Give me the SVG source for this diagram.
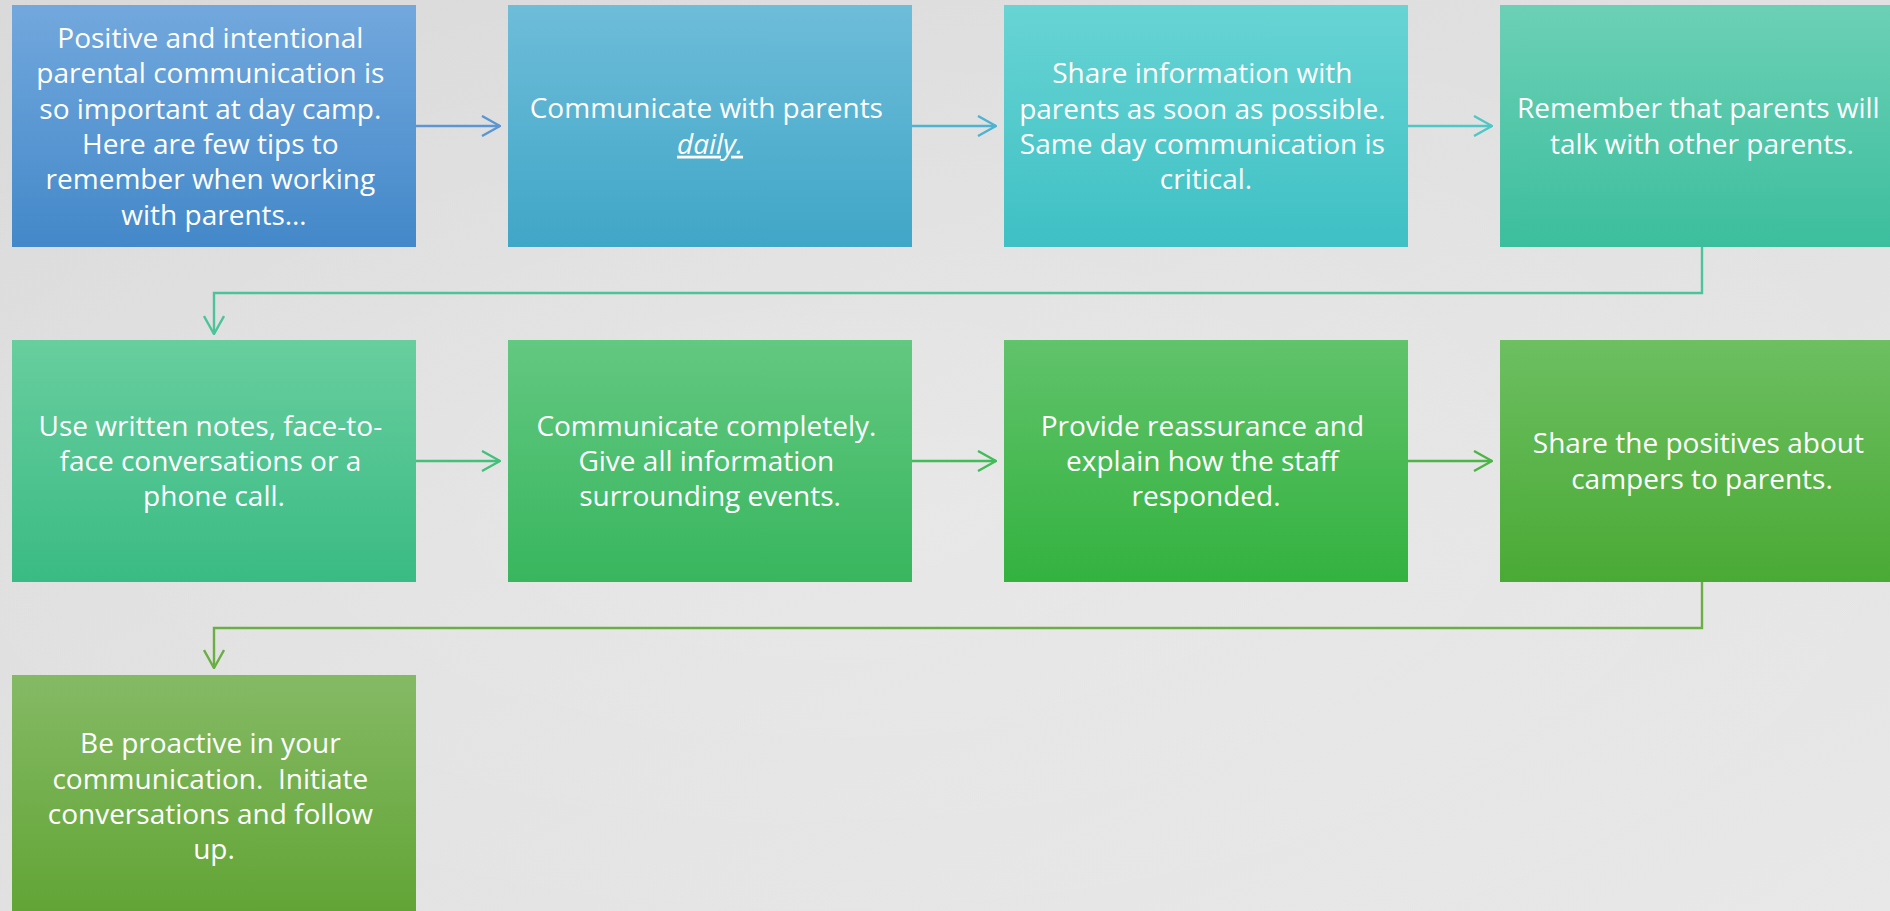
<svg xmlns="http://www.w3.org/2000/svg" width="1890" height="911" viewBox="0 0 1890 911">
  <style>
    .lbl { font-family: "Open Sans", Lato, sans-serif; font-size: 28px; fill: #ffffff; text-anchor: middle; }
    .con { fill: none; stroke-width: 2.4; }
    .em { font-style: italic; text-decoration: underline; }
  </style>
  <defs>
    <linearGradient id="bg" x1="0" y1="0" x2="1" y2="1">
      <stop offset="0" stop-color="#dbdada"/>
      <stop offset="1" stop-color="#e8e8e8"/>
    </linearGradient>
    <radialGradient id="glow" cx="0.45" cy="0.55" r="0.6">
      <stop offset="0" stop-color="#ffffff" stop-opacity="0.22"/>
      <stop offset="1" stop-color="#ffffff" stop-opacity="0"/>
    </radialGradient>
    <linearGradient id="g1" x1="0" y1="0" x2="0" y2="1"><stop offset="0" stop-color="#72a8dd"/><stop offset="1" stop-color="#4388c9"/></linearGradient>
    <linearGradient id="g2" x1="0" y1="0" x2="0" y2="1"><stop offset="0" stop-color="#6ebdd9"/><stop offset="1" stop-color="#40a6c7"/></linearGradient>
    <linearGradient id="g3" x1="0" y1="0" x2="0" y2="1"><stop offset="0" stop-color="#68d4d4"/><stop offset="1" stop-color="#3ec0c4"/></linearGradient>
    <linearGradient id="g4" x1="0" y1="0" x2="0" y2="1"><stop offset="0" stop-color="#6cd0b6"/><stop offset="1" stop-color="#3cbe9d"/></linearGradient>
    <linearGradient id="g5" x1="0" y1="0" x2="0" y2="1"><stop offset="0" stop-color="#68ce9e"/><stop offset="1" stop-color="#3abb84"/></linearGradient>
    <linearGradient id="g6" x1="0" y1="0" x2="0" y2="1"><stop offset="0" stop-color="#63c881"/><stop offset="1" stop-color="#38b65e"/></linearGradient>
    <linearGradient id="g7" x1="0" y1="0" x2="0" y2="1"><stop offset="0" stop-color="#61c36b"/><stop offset="1" stop-color="#33b23f"/></linearGradient>
    <linearGradient id="g8" x1="0" y1="0" x2="0" y2="1"><stop offset="0" stop-color="#6dbf61"/><stop offset="1" stop-color="#4aaa35"/></linearGradient>
    <linearGradient id="g9" x1="0" y1="0" x2="0" y2="1"><stop offset="0" stop-color="#85ba65"/><stop offset="1" stop-color="#61a434"/></linearGradient>
    <marker id="a1" viewBox="0 0 20 22" refX="19" refY="11" markerWidth="20" markerHeight="22" markerUnits="userSpaceOnUse" orient="auto"><path d="M1,1 L19,11 L1,21" fill="none" stroke="#5b96d2" stroke-width="2.4"/></marker>
    <marker id="a2" viewBox="0 0 20 22" refX="19" refY="11" markerWidth="20" markerHeight="22" markerUnits="userSpaceOnUse" orient="auto"><path d="M1,1 L19,11 L1,21" fill="none" stroke="#4db3d0" stroke-width="2.4"/></marker>
    <marker id="a3" viewBox="0 0 20 22" refX="19" refY="11" markerWidth="20" markerHeight="22" markerUnits="userSpaceOnUse" orient="auto"><path d="M1,1 L19,11 L1,21" fill="none" stroke="#4ec7c6" stroke-width="2.4"/></marker>
    <marker id="a4" viewBox="0 0 20 22" refX="19" refY="11" markerWidth="20" markerHeight="22" markerUnits="userSpaceOnUse" orient="auto"><path d="M1,1 L19,11 L1,21" fill="none" stroke="#4cc49a" stroke-width="2.4"/></marker>
    <marker id="a5" viewBox="0 0 20 22" refX="19" refY="11" markerWidth="20" markerHeight="22" markerUnits="userSpaceOnUse" orient="auto"><path d="M1,1 L19,11 L1,21" fill="none" stroke="#45c07a" stroke-width="2.4"/></marker>
    <marker id="a6" viewBox="0 0 20 22" refX="19" refY="11" markerWidth="20" markerHeight="22" markerUnits="userSpaceOnUse" orient="auto"><path d="M1,1 L19,11 L1,21" fill="none" stroke="#40bc58" stroke-width="2.4"/></marker>
    <marker id="a7" viewBox="0 0 20 22" refX="19" refY="11" markerWidth="20" markerHeight="22" markerUnits="userSpaceOnUse" orient="auto"><path d="M1,1 L19,11 L1,21" fill="none" stroke="#4db548" stroke-width="2.4"/></marker>
    <marker id="a8" viewBox="0 0 20 22" refX="19" refY="11" markerWidth="20" markerHeight="22" markerUnits="userSpaceOnUse" orient="auto"><path d="M1,1 L19,11 L1,21" fill="none" stroke="#6aae44" stroke-width="2.4"/></marker>
  </defs>

  <!-- backdrop -->
  <rect width="1890" height="911" fill="url(#bg)"/>
  <rect width="1890" height="911" fill="url(#glow)"/>

  <!-- connectors -->
  <g id="connectors">
    <path class="con" stroke="#5b96d2" d="M416,126 H500" marker-end="url(#a1)"/>
    <path class="con" stroke="#4db3d0" d="M912,126 H996" marker-end="url(#a2)"/>
    <path class="con" stroke="#4ec7c6" d="M1408,126 H1492" marker-end="url(#a3)"/>
    <path class="con" stroke="#4cc49a" d="M1702,247 V293 H214 V334" marker-end="url(#a4)"/>
    <path class="con" stroke="#45c07a" d="M416,461 H500" marker-end="url(#a5)"/>
    <path class="con" stroke="#40bc58" d="M912,461 H996" marker-end="url(#a6)"/>
    <path class="con" stroke="#4db548" d="M1408,461 H1492" marker-end="url(#a7)"/>
    <path class="con" stroke="#6aae44" d="M1702,582 V628 H214 V668" marker-end="url(#a8)"/>
  </g>

  <!-- row 1 -->
  <g id="n1">
    <rect x="12" y="5" width="404" height="242" fill="url(#g1)"/>
    <text class="lbl">
      <tspan x="214" y="48">Positive and intentional</tspan>
      <tspan x="214" y="83.3">parental communication is</tspan>
      <tspan x="214" y="118.6">so important at day camp.</tspan>
      <tspan x="214" y="153.9">Here are few tips to</tspan>
      <tspan x="214" y="189.2">remember when working</tspan>
      <tspan x="214" y="224.5">with parents…</tspan>
    </text>
  </g>
  <g id="n2">
    <rect x="508" y="5" width="404" height="242" fill="url(#g2)"/>
    <text class="lbl">
      <tspan x="710" y="118.4">Communicate with parents</tspan>
      <tspan x="710" y="153.7" class="em">daily.</tspan>
    </text>
  </g>
  <g id="n3">
    <rect x="1004" y="5" width="404" height="242" fill="url(#g3)"/>
    <text class="lbl">
      <tspan x="1206" y="83.2">Share information with</tspan>
      <tspan x="1206" y="118.5">parents as soon as possible.</tspan>
      <tspan x="1206" y="153.8">Same day communication is</tspan>
      <tspan x="1206" y="189.1">critical.</tspan>
    </text>
  </g>
  <g id="n4">
    <rect x="1500" y="5" width="404" height="242" fill="url(#g4)"/>
    <text class="lbl">
      <tspan x="1702" y="118.4">Remember that parents will</tspan>
      <tspan x="1702" y="153.7">talk with other parents.</tspan>
    </text>
  </g>

  <!-- row 2 -->
  <g id="n5">
    <rect x="12" y="340" width="404" height="242" fill="url(#g5)"/>
    <text class="lbl">
      <tspan x="214" y="435.8">Use written notes, face-to-</tspan>
      <tspan x="214" y="471.1">face conversations or a</tspan>
      <tspan x="214" y="506.4">phone call.</tspan>
    </text>
  </g>
  <g id="n6">
    <rect x="508" y="340" width="404" height="242" fill="url(#g6)"/>
    <text class="lbl">
      <tspan x="710" y="435.8">Communicate completely.</tspan>
      <tspan x="710" y="471.1">Give all information</tspan>
      <tspan x="710" y="506.4">surrounding events.</tspan>
    </text>
  </g>
  <g id="n7">
    <rect x="1004" y="340" width="404" height="242" fill="url(#g7)"/>
    <text class="lbl">
      <tspan x="1206" y="435.8">Provide reassurance and</tspan>
      <tspan x="1206" y="471.1">explain how the staff</tspan>
      <tspan x="1206" y="506.4">responded.</tspan>
    </text>
  </g>
  <g id="n8">
    <rect x="1500" y="340" width="404" height="242" fill="url(#g8)"/>
    <text class="lbl">
      <tspan x="1702" y="453.4">Share the positives about</tspan>
      <tspan x="1702" y="488.7">campers to parents.</tspan>
    </text>
  </g>

  <!-- row 3 -->
  <g id="n9">
    <rect x="12" y="675" width="404" height="242" fill="url(#g9)"/>
    <text class="lbl">
      <tspan x="214" y="753.2">Be proactive in your</tspan>
      <tspan x="214" y="788.5">communication.&#160; Initiate</tspan>
      <tspan x="214" y="823.8">conversations and follow</tspan>
      <tspan x="214" y="859.1">up.</tspan>
    </text>
  </g>
</svg>
